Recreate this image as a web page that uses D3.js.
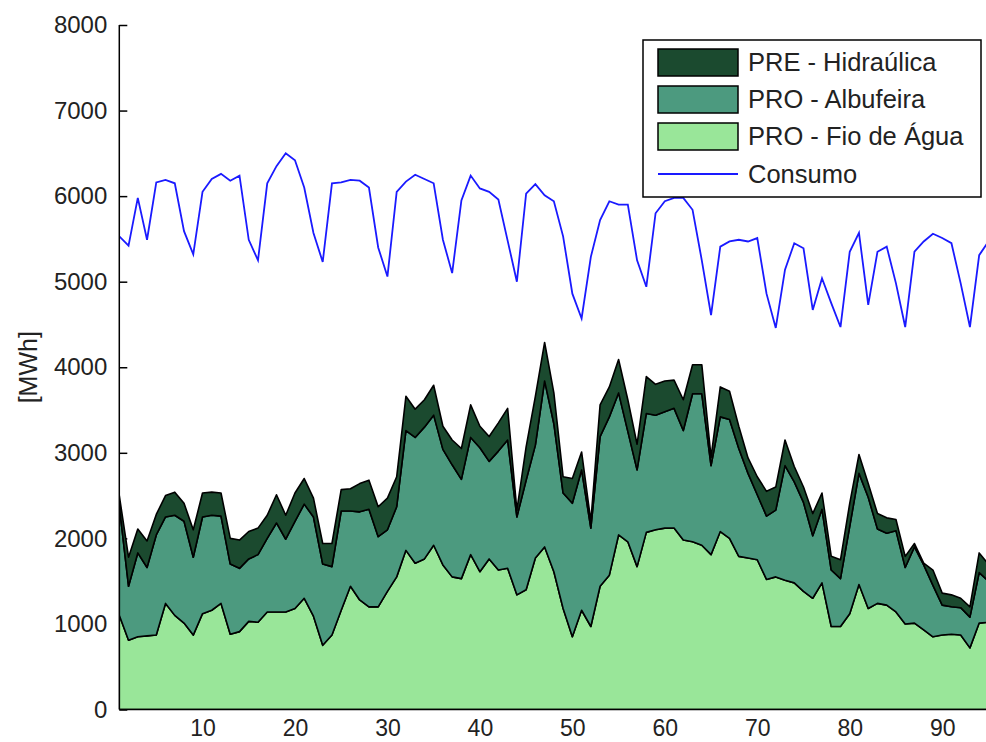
<!DOCTYPE html>
<html lang="pt">
<head>
	<meta charset="UTF-8">
	<title>Produção hídrica e consumo</title>
	<script src="https://cdn.jsdelivr.net/npm/d3@7/dist/d3.min.js"></script>
	<style>
		html, body { margin: 0; padding: 0; background: #fff; }
		svg { display: block; font-family: "Liberation Sans", Arial, sans-serif; }
	</style>
</head>
<body>
	<svg width="986" height="742"></svg>
	<script>
		// data
		var dias = d3.range(1, 97);
		var consumo = [5530,5420,5980,5490,6160,6190,6150,5590,5320,6050,6200,6260,6180,6240,5490,5250,6150,6350,6500,6420,
			6100,5570,5230,6150,6160,6190,6180,6100,5400,5060,6050,6170,6250,6200,6150,5490,5100,5950,6240,6090,
			6050,5960,5480,5000,6030,6140,6010,5940,5530,4860,4570,5290,5720,5940,5900,5900,5250,4940,5800,5940,
			5980,5980,5840,5250,4610,5410,5470,5490,5470,5510,4860,4460,5140,5450,5390,4670,5040,4750,4470,5350,
			5570,4730,5350,5410,4980,4470,5350,5470,5560,5510,5450,4980,4470,5310,5470,5500];
		var fioAgua = [1100,810,850,860,870,1240,1100,1010,870,1120,1160,1240,880,910,1030,1020,1140,1140,1140,1180,
			1300,1090,750,870,1160,1440,1280,1200,1200,1380,1550,1860,1710,1760,1920,1690,1550,1530,1810,1610,
			1760,1630,1650,1340,1400,1770,1900,1610,1180,850,1160,970,1440,1570,2040,1960,1670,2070,2100,2120,
			2120,1980,1960,1920,1810,2080,2000,1790,1770,1750,1520,1550,1510,1480,1380,1300,1480,970,970,1120,
			1460,1180,1240,1220,1140,1000,1010,930,850,870,880,870,720,1010,1020,1030];
		var albufeira = [1280,630,980,800,1170,1010,1170,1190,910,1130,1110,1020,820,740,730,790,860,1040,850,1020,
			1100,1160,950,800,1160,880,1030,1140,820,720,820,1400,1470,1540,1520,1350,1310,1160,1370,1450,
			1140,1390,1500,910,1280,1320,1940,1730,1350,1560,1640,1150,1750,1850,1660,1290,1130,1390,1340,1360,
			1400,1280,1730,1770,1040,1340,1390,1260,990,760,740,780,1340,1180,1040,730,860,660,560,1020,
			1300,1300,870,840,950,660,890,760,600,350,320,320,360,590,480,470];
		var preHidraulica = [120,340,280,310,240,250,270,210,320,280,270,270,300,330,320,310,270,330,280,330,
			300,220,240,270,250,260,330,340,350,370,350,400,330,320,350,270,290,360,380,250,
			290,330,370,80,390,570,450,360,190,290,210,80,370,350,390,370,300,430,360,360,
			330,360,340,340,100,350,330,260,180,210,290,270,300,180,180,260,190,160,220,270,
			220,160,180,180,130,130,40,20,180,140,140,110,120,230,200,200];
		var yTicks = [0,1000,2000,3000,4000,5000,6000,7000,8000];
		var xTicks = [10,20,30,40,50,60,70,80,90];

		var series = ["fio", "albufeira", "pre"];
		var labels = {pre: "PRE - Hidraúlica", albufeira: "PRO - Albufeira", fio: "PRO - Fio de Água"};
		var colors = {pre: "#1b4a2f", albufeira: "#4c9a7f", fio: "#99e699"};

		var table = dias.map(function(d, i) {
			return {dia: d, fio: fioAgua[i], albufeira: albufeira[i], pre: preHidraulica[i], consumo: consumo[i]};
		});

		var svg = d3.select("svg");
		var plotLeft = 119.3, plotTop = 25, plotBottom = 709.5, step = 9.246;

		var xScale = d3.scaleLinear().domain([1, 96]).range([plotLeft, plotLeft + 95 * step]);
		var yScale = d3.scaleLinear().domain([0, 8000]).range([plotBottom, plotTop]);

		svg.append("clipPath").attr("id", "plot")
			.append("rect").attr("x", plotLeft).attr("y", plotTop)
			.attr("width", 986 - plotLeft).attr("height", plotBottom - plotTop);

		// axes (ticks point inward, under the areas)
		var yAxis = d3.axisLeft(yScale).tickValues(yTicks).tickFormat(d3.format("d")).tickSize(-8).tickPadding(12);
		var gy = svg.append("g").attr("transform", "translate(" + plotLeft + ",0)").call(yAxis);
		gy.select(".domain").remove();
		gy.selectAll("line").attr("stroke", "#000").attr("stroke-width", 1.5);
		gy.selectAll("text").attr("font-size", 24).attr("fill", "#222");

		var xAxis = d3.axisBottom(xScale).tickValues(xTicks).tickFormat(d3.format("d")).tickSize(0).tickPadding(10);
		var gx = svg.append("g").attr("transform", "translate(0," + plotBottom + ")").call(xAxis);
		gx.select(".domain").remove();
		gx.selectAll("text").attr("font-size", 23).attr("fill", "#222");

		// stacked areas
		var stack = d3.stack().keys(series);
		var layers = stack(table);
		var area = d3.area()
			.x(function(d) { return xScale(d.data.dia); })
			.y0(function(d) { return yScale(d[0]); })
			.y1(function(d) { return yScale(d[1]); });

		var plot = svg.append("g").attr("clip-path", "url(#plot)");
		plot.selectAll("path.layer").data(layers).enter().append("path")
			.attr("class", "layer")
			.attr("d", area)
			.attr("fill", function(d) { return colors[d.key]; })
			.attr("stroke", "#000")
			.attr("stroke-width", 1.6)
			.attr("stroke-linejoin", "round");

		// consumo
		var line = d3.line()
			.x(function(d) { return xScale(d.dia); })
			.y(function(d) { return yScale(d.consumo); });
		plot.append("path").datum(table)
			.attr("d", line)
			.attr("fill", "none")
			.attr("stroke", "#1a1aff")
			.attr("stroke-width", 1.8);

		// axis lines on top
		svg.append("line").attr("x1", plotLeft).attr("x2", plotLeft).attr("y1", plotTop).attr("y2", plotBottom)
			.attr("stroke", "#000").attr("stroke-width", 1.5);
		svg.append("line").attr("x1", plotLeft).attr("x2", 986).attr("y1", plotBottom).attr("y2", plotBottom)
			.attr("stroke", "#000").attr("stroke-width", 1.5);

		// y label
		svg.append("text")
			.attr("transform", "translate(37," + ((plotTop + plotBottom) / 2) + ") rotate(-90)")
			.attr("text-anchor", "middle")
			.attr("font-size", 25)
			.attr("fill", "#222")
			.text("[MWh]");

		// legend
		var legend = svg.append("g").attr("transform", "translate(643,40)");
		legend.append("rect").attr("width", 338).attr("height", 157)
			.attr("fill", "#fff").attr("stroke", "#000").attr("stroke-width", 1.5);
		var order = ["pre", "albufeira", "fio"];
		order.forEach(function(k, i) {
			var cy = 22 + i * 37;
			legend.append("rect").attr("x", 15).attr("y", cy - 13).attr("width", 80).attr("height", 27)
				.attr("fill", colors[k]).attr("stroke", "#000").attr("stroke-width", 1.5);
			legend.append("text").attr("x", 105).attr("y", cy).attr("dy", "0.35em")
				.attr("font-size", 25.5).attr("fill", "#222").text(labels[k]);
		});
		legend.append("line").attr("x1", 15).attr("x2", 95).attr("y1", 134).attr("y2", 134)
			.attr("stroke", "#1a1aff").attr("stroke-width", 1.8);
		legend.append("text").attr("x", 105).attr("y", 134).attr("dy", "0.35em")
			.attr("font-size", 25.5).attr("fill", "#222").text("Consumo");
	</script>
</body>
</html>
